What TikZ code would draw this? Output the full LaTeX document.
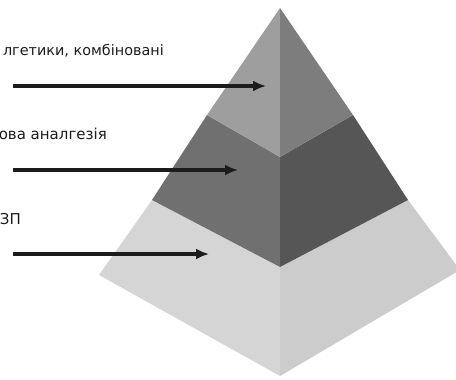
\documentclass[tikz,border=0pt]{standalone}
\usepackage{fontspec}
\setmainfont{DejaVu Sans}
\usepackage{tikz}
\usetikzlibrary{positioning,calc,arrows.meta}
\definecolor{toplight}{RGB}{158,158,158}
\definecolor{topdark}{RGB}{125,125,125}
\definecolor{midlight}{RGB}{112,112,112}
\definecolor{middark}{RGB}{86,86,86}
\definecolor{baselight}{RGB}{213,213,213}
\definecolor{basedark}{RGB}{204,204,204}
\definecolor{myblack}{RGB}{28,28,28}

\begin{document}
\begin{tikzpicture}[x=1pt,y=-1pt,face/.style={draw=none},
edge/.style = {-{Latex[length=13pt,width=11pt]},line width=3.2pt,color=myblack},
label/.style={anchor=base east,inner sep=0pt,font=\fontsize{15}{17}\selectfont,color=myblack}]
\useasboundingbox (0,0) rectangle (456,380);

% corners
\coordinate (apex) at (280,8);
\coordinate (l1) at (207,115);
\coordinate (c1) at (280,157);
\coordinate (r1) at (353,115);
\coordinate (l2) at (152,200);
\coordinate (c2) at (280,267);
\coordinate (r2) at (408,200);
\coordinate (l3) at (99,275);
\coordinate (c3) at (280,376);
\coordinate (r3) at (460,270);

% faces
\fill[face,baselight] (l2) -- (c2) -- (c3) -- (l3) -- cycle;
\fill[face,basedark] (c2) -- (r2) -- (r3) -- (c3) -- cycle;
\fill[face,midlight] (l1) -- (c1) -- (c2) -- (l2) -- cycle;
\fill[face,middark] (c1) -- (r1) -- (r2) -- (c2) -- cycle;
\fill[face,toplight] (apex) -- (c1) -- (l1) -- cycle;
\fill[face,topdark] (apex) -- (r1) -- (c1) -- cycle;

% labels
\node[label,font=\fontsize{14.4}{17}\selectfont] (lab1) at (164,55) {лгетики, комбіновані};
\node[label] (lab2) at (107,139) {ова аналгезія};
\node[label] (lab3) at (21,224) {ЗП};

% arrows
\coordinate (s1) at (13,86);
\coordinate (t1) at (266,86);
\coordinate (s2) at (13,170);
\coordinate (t2) at (238,170);
\coordinate (s3) at (13,254);
\coordinate (t3) at (209,254);
\draw[edge] (s1) -- (t1);
\draw[edge] (s2) -- (t2);
\draw[edge] (s3) -- (t3);
\end{tikzpicture}
\end{document}
